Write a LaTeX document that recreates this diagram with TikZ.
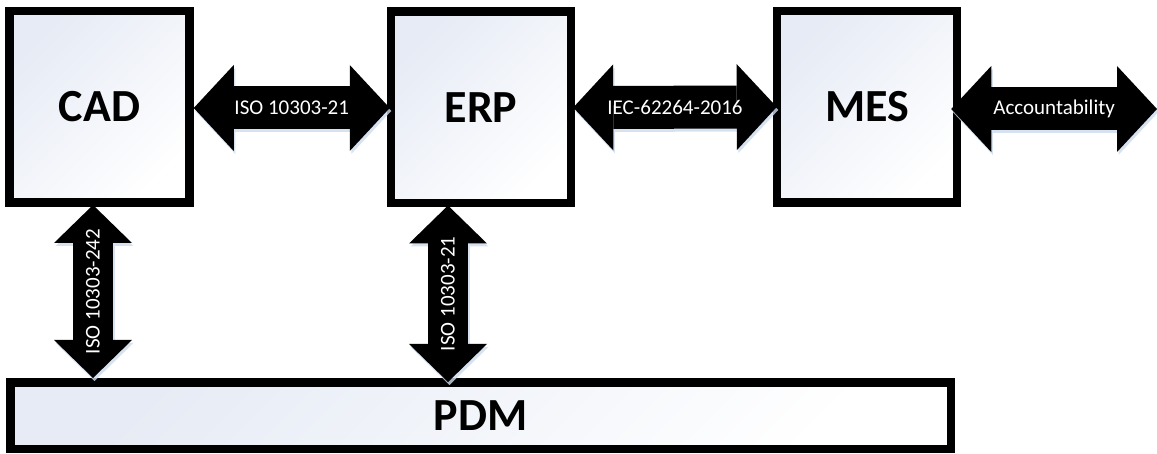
\documentclass[tikz,border=0pt]{standalone}
\usepackage{fontspec}
\setmainfont{Carlito}
\usetikzlibrary{arrows.meta,calc}
\definecolor{boxtop}{RGB}{230,235,245}
\definecolor{glow}{RGB}{205,219,238}
\begin{document}
\begin{tikzpicture}[x=1pt,y=-1pt,
  sysbox/.style={draw=black, line width=8.5pt, inner sep=0pt,
    top color=boxtop, bottom color=white, shading angle=45,
    font=\bfseries\fontsize{46}{46}\selectfont},
  unitbox/.style={sysbox, minimum width=180pt, minimum height=191.5pt},
  linklabel/.style={midway, text=white, inner sep=0pt,
    font=\fontsize{21}{21}\selectfont},
  link/.style={draw=black, line width=43pt,
    arrows={Triangle[length=40pt,width=86pt,line width=0pt]-Triangle[length=40pt,width=86pt,line width=0pt]}},
  vlink/.style={draw=black, line width=40pt,
    arrows={Triangle[length=38pt,width=78pt,line width=0pt]-Triangle[length=38pt,width=78pt,line width=0pt]}},
  halo/.style={draw=glow, opacity=0.8, transform canvas={shift={(1.5pt,-3pt)}}}
]
\useasboundingbox (0,0) rectangle (1157,454);

\node[unitbox] (cad) at (99.5,107) {CAD};
\node[unitbox] (erp) at (481,107.5) {ERP};
\node[unitbox] (mes) at (867,107) {MES};
\node[sysbox, minimum width=940.5pt, minimum height=66.5pt] (pdm) at (480.5,415.5) {PDM};
\coordinate (out) at (1157,109);

% soft halos
\draw[link,halo] (cad.east |- 0,108) -- ($(erp.west |- 0,108)+(3,0)$);
\draw[link,halo] ($(erp.east)+(-2,0)$) -- ($(mes.west)+(4,0)$);
\draw[link,halo] ($(mes.east |- out)+(-10,0)$) -- (out);
\draw[vlink,halo] ($(cad.south -| 93,0)+(0,-2)$) -- (pdm.north -| 93,0);
\draw[vlink,halo] ($(erp.south -| 448,0)+(0,-2)$) -- ($(pdm.north -| 448,0)+(0,4)$);

% connectors
\draw[link] (cad.east |- 0,108) -- ($(erp.west |- 0,108)+(3,0)$)
  node[linklabel] {ISO 10303-21};
\draw[link] ($(erp.east)+(-2,0)$) -- ($(mes.west)+(4,0)$)
  node[linklabel] {IEC-62264-2016};
\draw[link] ($(mes.east |- out)+(-10,0)$) -- (out)
  node[linklabel] {Accountability};
\draw[vlink] ($(cad.south -| 93,0)+(0,-2)$) -- (pdm.north -| 93,0)
  node[linklabel, rotate=90] {ISO 10303-242};
\draw[vlink] ($(erp.south -| 448,0)+(0,-2)$) -- ($(pdm.north -| 448,0)+(0,4)$)
  node[linklabel, rotate=90] {ISO 10303-21};
\end{tikzpicture}
\end{document}
